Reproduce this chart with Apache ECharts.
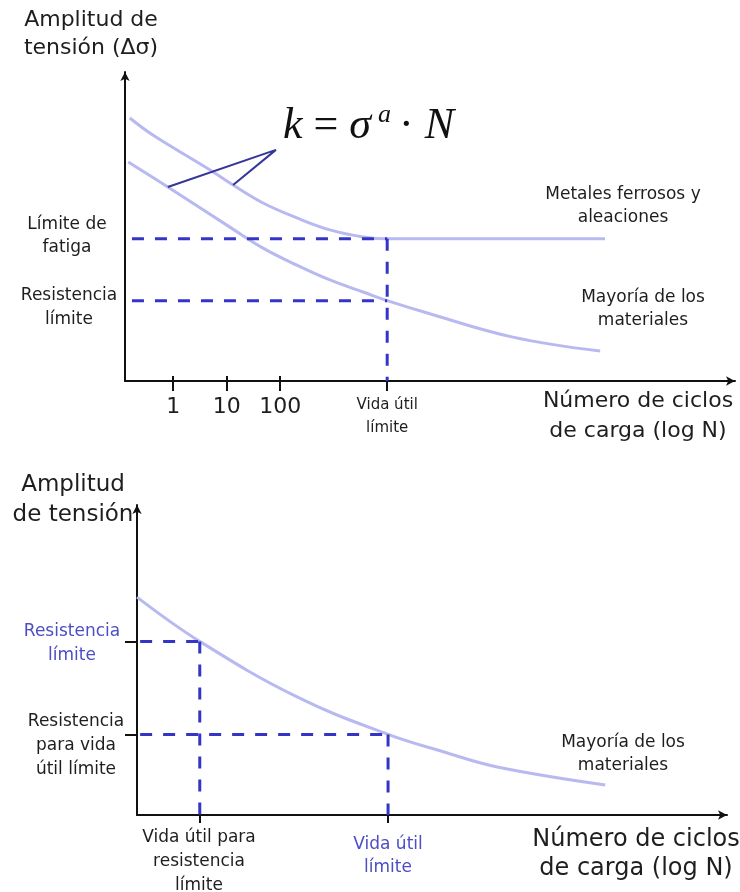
<!DOCTYPE html>
<html>
<head>
<meta charset="utf-8">
<script src="https://cdn.jsdelivr.net/npm/echarts@6/dist/echarts.min.js"></script>
<style>
  html, body { margin: 0; padding: 0; background: #fff; }
  #chart { width: 740px; height: 892px; }
</style>
</head>
<body>
<div id="chart"></div>
<script>
// ---- Upper diagram: S-N curves, x in log10(N), y in stress-amplitude units ----
const logTicks = [0, 1, 2];                 // log10 of 1, 10, 100
const logTickLabels = ['1', '10', '100'];
const lifeLimitLog = 4;                     // "Vida útil límite"
const fatigueLimit = 46;                    // "Límite de fatiga"
const enduranceLimit = 26;                  // "Resistencia límite"
const dashStartTop = -0.77;

// Ferrous metals and alloys: falls, then levels off at the fatigue limit
const ferrousCurve = [
  [-0.81, 85.1], [-0.38, 79.6], [0.69, 68.3], [1.12, 63.4], [1.68, 57.6],
  [2.31, 52.8], [2.93, 48.9], [3.55, 46.6], [4, 46], [8.07, 46]
];
// Most materials: keeps falling
const materialsCurveTop = [
  [-0.84, 70.9], [-0.1, 62.8], [1.06, 49.8], [1.68, 43.0], [2.31, 37.5],
  [2.93, 32.7], [3.55, 28.8], [4, 26], [4.75, 22], [6.35, 14.2], [7.98, 9.7]
];
// Callout joining both curves to the formula
const pointerApex = [1.92, 74.8];

// ---- Lower diagram ----
const lifeAtStrengthLimit = 1;   // "Vida útil para resistencia límite"
const lifeLimit = 4;             // "Vida útil límite"
const strengthLimit = 56;        // "Resistencia límite"
const strengthAtLifeLimit = 26;  // "Resistencia para vida útil límite"
const dashStartBottom = 0.05;
const materialsCurveBottom = [
  [0, 70.3], [1, 56], [2.55, 38.1], [4, 26],
  [4.88, 20.4], [5.74, 15.5], [7.46, 9.7]
];

const FONT = 'DejaVu Sans';
const TEXT = '#1e1e1e';
const AXIS = '#111111';
const CURVE = '#b9b9f1';
const DASH = '#3434c6';
const POINTER = '#35359a';
const BLUE = '#4d4dc6';

function curve(data, xi, yi) {
  return {
    type: 'line', xAxisIndex: xi, yAxisIndex: yi, data: data,
    symbol: 'none', smooth: 0.4,
    lineStyle: { color: CURVE, width: 3 }, z: 3, silent: true
  };
}
function dashed(data, xi, yi) {
  return {
    type: 'line', xAxisIndex: xi, yAxisIndex: yi, data: data,
    symbol: 'none',
    lineStyle: { color: DASH, width: 3, type: [12, 11], cap: 'butt' }, z: 4, silent: true
  };
}
function label(text, x, y, size, color, lineHeight, align) {
  return {
    type: 'text', x: x, y: y, z: 10, silent: true,
    style: {
      text: text, fill: color || TEXT, fontFamily: FONT, fontSize: size,
      lineHeight: lineHeight || Math.round(size * 1.35),
      textAlign: align || 'center', textVerticalAlign: 'middle'
    }
  };
}

const axisLine = { show: true, onZero: false, lineStyle: { color: AXIS, width: 2 }, symbol: ['none', 'arrow'], symbolSize: [7, 9] };

const option = {
  animation: false,
  backgroundColor: '#ffffff',
  grid: [
    { left: 125, top: 72, width: 610, height: 309 },
    { left: 137, top: 505, width: 590, height: 310 }
  ],
  xAxis: [
    {
      gridIndex: 0, type: 'value', min: -0.9, max: 10.5, position: 'bottom',
      axisLine: axisLine, splitLine: { show: false },
      axisTick: { show: true, customValues: logTicks.concat([lifeLimitLog]), length: 10, lineStyle: { color: AXIS, width: 2 } },
      axisLabel: {
        show: true, customValues: logTicks.concat([lifeLimitLog]), margin: 13,
        formatter: function (v) {
          if (v === lifeLimitLog) return '{v|Vida útil}\n{v|límite}';
          return '{n|' + logTickLabels[logTicks.indexOf(v)] + '}';
        },
        rich: {
          n: { fontFamily: FONT, fontSize: 22, lineHeight: 26, color: TEXT },
          v: { fontFamily: FONT, fontSize: 15, lineHeight: 23, color: TEXT }
        }
      }
    },
    {
      gridIndex: 0, type: 'value', min: -0.9, max: 10.5, position: 'bottom',
      axisLine: { show: false, onZero: false }, splitLine: { show: false }, axisLabel: { show: false },
      axisTick: { show: true, inside: true, customValues: logTicks, length: 5, lineStyle: { color: AXIS, width: 2 } }
    },
    {
      gridIndex: 1, type: 'value', min: 0, max: 9.4, position: 'bottom',
      axisLine: axisLine, splitLine: { show: false }, axisLabel: { show: false },
      axisTick: { show: true, customValues: [lifeAtStrengthLimit, lifeLimit], length: 8, lineStyle: { color: AXIS, width: 2 } }
    }
  ],
  yAxis: [
    {
      gridIndex: 0, type: 'value', min: 0, max: 100, position: 'left',
      axisLine: axisLine, splitLine: { show: false }, axisLabel: { show: false }, axisTick: { show: false }
    },
    {
      gridIndex: 1, type: 'value', min: 0, max: 100, position: 'left',
      axisLine: axisLine, splitLine: { show: false }, axisLabel: { show: false },
      axisTick: { show: true, customValues: [strengthAtLifeLimit, strengthLimit], length: 12, lineStyle: { color: AXIS, width: 2 } }
    }
  ],
  series: [
    curve(ferrousCurve, 0, 0),
    curve(materialsCurveTop, 0, 0),
    dashed([[dashStartTop, fatigueLimit], [lifeLimitLog, fatigueLimit]], 0, 0),
    dashed([[dashStartTop, enduranceLimit], [lifeLimitLog, enduranceLimit]], 0, 0),
    dashed([[lifeLimitLog, fatigueLimit], [lifeLimitLog, 0]], 0, 0),
    {
      type: 'line', xAxisIndex: 0, yAxisIndex: 0, symbol: 'none', silent: true, z: 5,
      data: [materialsCurveTop[1], pointerApex, ferrousCurve[3]],
      lineStyle: { color: POINTER, width: 2 }
    },
    curve(materialsCurveBottom, 2, 1),
    dashed([[dashStartBottom, strengthLimit], [lifeAtStrengthLimit, strengthLimit]], 2, 1),
    dashed([[lifeAtStrengthLimit, strengthLimit], [lifeAtStrengthLimit, 0]], 2, 1),
    dashed([[dashStartBottom, strengthAtLifeLimit], [lifeLimit, strengthAtLifeLimit]], 2, 1),
    dashed([[lifeLimit, strengthAtLifeLimit], [lifeLimit, 0]], 2, 1)
  ],
  graphic: [
    // upper diagram
    label('Amplitud de\ntensión (Δσ)', 91, 34, 22, TEXT, 28),
    label('Límite de\nfatiga', 67, 236, 17, TEXT, 23),
    label('Resistencia\nlímite', 69, 308, 17, TEXT, 24),
    label('Metales ferrosos y\naleaciones', 623, 206, 17, TEXT, 23),
    label('Mayoría de los\nmateriales', 643, 309, 17, TEXT, 23),
    label('Número de ciclos\nde carga (log N)', 638, 416, 22, TEXT, 30),
    {
      type: 'text', x: 283, y: 126, z: 10, silent: true,
      style: {
        text: '{i|k} {r|=} {i|σ}', textVerticalAlign: 'middle',
        rich: {
          i: { fontFamily: 'Liberation Serif', fontStyle: 'italic', fontSize: 44, fill: '#111' },
          r: { fontFamily: 'Liberation Serif', fontSize: 44, fill: '#111' }
        },
        fontFamily: 'Liberation Serif', fontSize: 44
      }
    },
    {
      type: 'text', x: 378, y: 115, z: 10, silent: true,
      style: { text: 'a', fontFamily: 'Liberation Serif', fontStyle: 'italic', fontSize: 26, fill: '#111', textVerticalAlign: 'middle' }
    },
    {
      type: 'text', x: 399, y: 126, z: 10, silent: true,
      style: {
        text: '{r|·} {i|N}', textVerticalAlign: 'middle',
        rich: {
          i: { fontFamily: 'Liberation Serif', fontStyle: 'italic', fontSize: 44, fill: '#111' },
          r: { fontFamily: 'Liberation Serif', fontSize: 44, fill: '#111' }
        },
        fontFamily: 'Liberation Serif', fontSize: 44
      }
    },
    // lower diagram
    label('Amplitud\nde tensión', 73, 500, 23, TEXT, 30),
    label('Resistencia\nlímite', 72, 644, 17, BLUE, 24),
    label('Resistencia\npara vida\nútil límite', 76, 746, 17, TEXT, 24),
    label('Vida útil para\nresistencia\nlímite', 199, 862, 17, TEXT, 24),
    label('Vida útil\nlímite', 388, 856, 17, BLUE, 23),
    label('Mayoría de los\nmateriales', 623, 754, 17, TEXT, 23),
    label('Número de ciclos\nde carga (log N)', 636, 854, 24, TEXT, 29)
  ]
};

const chart = echarts.init(document.getElementById('chart'), null, { renderer: 'canvas' });
chart.setOption(option);
</script>
</body>
</html>
